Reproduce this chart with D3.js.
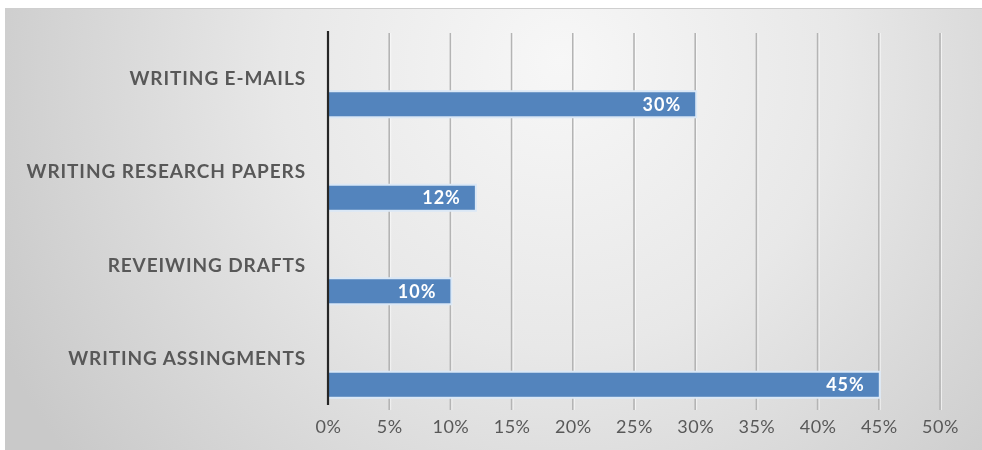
<!DOCTYPE html>
<html>
<head>
<meta charset="utf-8">
<script src="https://cdn.jsdelivr.net/npm/d3@7"></script>
<style>
  html, body { margin: 0; padding: 0; background: #ffffff; }
  svg { display: block; }
</style>
</head>
<body>
<svg id="chart" width="982" height="450"></svg>
<script>
// Share of time spent on each writing task
const categories = ["WRITING E-MAILS", "WRITING RESEARCH PAPERS", "REVEIWING DRAFTS", "WRITING ASSINGMENTS"];
const values = [30, 12, 10, 45];
const tickValues = [0, 5, 10, 15, 20, 25, 30, 35, 40, 45, 50];

const W = 982, H = 450;
const svg = d3.select("#chart");
const defs = svg.append("defs");

// Soft grey backdrop, lighter toward the top middle
const bg = defs.append("radialGradient")
  .attr("id", "bgGrad")
  .attr("gradientUnits", "userSpaceOnUse")
  .attr("cx", 560).attr("cy", 80).attr("r", 620)
  .attr("fx", 560).attr("fy", 60);
bg.append("stop").attr("offset", "0%").attr("stop-color", "#f7f7f7");
bg.append("stop").attr("offset", "45%").attr("stop-color", "#e8e8e8");
bg.append("stop").attr("offset", "100%").attr("stop-color", "#c9c9c9");

const soft = defs.append("filter").attr("id", "soft").attr("x", "-5%").attr("y", "-20%").attr("width", "110%").attr("height", "140%");
soft.append("feGaussianBlur").attr("stdDeviation", 0.45);

svg.append("rect")
  .attr("x", 5).attr("y", 8)
  .attr("width", W - 5).attr("height", H - 8)
  .attr("fill", "url(#bgGrad)");
svg.append("line")
  .attr("x1", 5).attr("x2", W).attr("y1", 8.5).attr("y2", 8.5)
  .attr("stroke", "#cfcfcf").attr("stroke-width", 1);

const plot = { left: 328, right: 940, top: 31, bottom: 405 };

const x = d3.scaleLinear().domain([0, 50]).range([plot.left, plot.right]);
const y = d3.scaleBand().domain(categories).range([plot.top, plot.bottom]).padding(0);
// within each band: the label sits at the middle, the bar in the lower part
const bw = y.bandwidth();
const barOffset = bw * 0.655;
const barH = bw * 0.257;

const data = categories.map((c, i) => ({ cat: c, value: values[i] }));

// vertical gridlines
const gridTop = plot.top + 2, gridBottom = plot.bottom + 5;
const grid = svg.append("g").selectAll("g")
  .data(tickValues.slice(1)).join("g")
  .attr("transform", d => `translate(${x(d)},0)`);
grid.append("line")
  .attr("y1", gridTop).attr("y2", gridBottom)
  .attr("stroke", "#b4b4b4").attr("stroke-width", 1.6);
grid.append("line")
  .attr("x1", 1.5).attr("x2", 1.5)
  .attr("y1", gridTop).attr("y2", gridBottom)
  .attr("stroke", "#ffffff").attr("stroke-opacity", 0.6).attr("stroke-width", 1);

// bars with a pale glow edge
svg.append("g").selectAll("rect.glow")
  .data(data).join("rect")
  .attr("class", "glow")
  .attr("x", x(0) - 1)
  .attr("y", d => y(d.cat) + barOffset - 2)
  .attr("width", d => x(d.value) - x(0) + 3)
  .attr("height", barH + 4)
  .attr("fill", "#dbe8f6");
svg.append("g").selectAll("rect.bar")
  .data(data).join("rect")
  .attr("class", "bar")
  .attr("x", x(0))
  .attr("y", d => y(d.cat) + barOffset)
  .attr("width", d => x(d.value) - x(0))
  .attr("height", barH)
  .attr("fill", "#5384bd");

// value labels inside the bar ends
svg.append("g").selectAll("text.val")
  .data(data).join("text")
  .attr("class", "val")
  .attr("x", d => x(d.value) - 14)
  .attr("y", d => y(d.cat) + barOffset + barH / 2)
  .attr("dy", "0.36em")
  .attr("text-anchor", "end")
  .attr("font-family", "Lato, 'Open Sans', sans-serif")
  .attr("font-weight", "bold")
  .attr("font-size", 18)
  .attr("letter-spacing", 1)
  .attr("fill", "#ffffff")
  .attr("filter", "url(#soft)")
  .text(d => d.value + "%");

// category labels
svg.append("g").selectAll("text.cat")
  .data(data).join("text")
  .attr("class", "cat")
  .attr("x", 306)
  .attr("y", d => y(d.cat) + bw / 2)
  .attr("dy", "0.36em")
  .attr("text-anchor", "end")
  .attr("font-family", "Lato, 'Open Sans', sans-serif")
  .attr("font-weight", "bold")
  .attr("font-size", 19)
  .attr("letter-spacing", 0.9)
  .attr("fill", "#595959")
  .attr("filter", "url(#soft)")
  .text(d => d.cat);

// vertical category axis line
svg.append("line")
  .attr("x1", x(0)).attr("x2", x(0))
  .attr("y1", plot.top).attr("y2", plot.bottom)
  .attr("stroke", "#262626").attr("stroke-width", 2.2);

// percentage tick labels
const xAxis = svg.append("g")
  .attr("transform", `translate(0,${plot.bottom})`)
  .call(d3.axisBottom(x).tickValues(tickValues).tickSize(0).tickPadding(15).tickFormat(d => d + "%"));
xAxis.select(".domain").remove();
xAxis.selectAll("text")
  .attr("font-family", "Lato, 'Open Sans', sans-serif")
  .attr("font-size", 18)
  .attr("letter-spacing", 0.5)
  .attr("fill", "#595959")
  .attr("filter", "url(#soft)");
</script>
</body>
</html>
